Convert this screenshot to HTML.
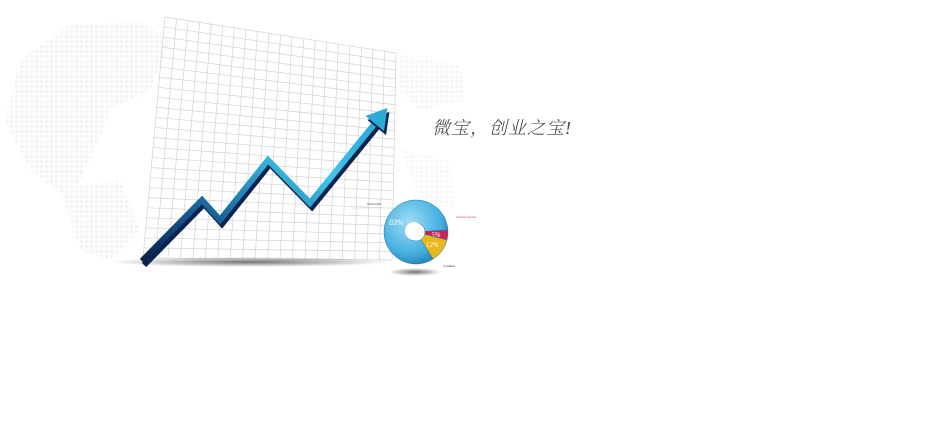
<!DOCTYPE html>
<html><head><meta charset="utf-8"><style>
html,body{margin:0;padding:0;background:#fff;width:950px;height:430px;overflow:hidden}
svg{display:block}
</style></head><body>
<svg id="chart" width="950" height="430">
<defs>
<linearGradient id="arrowG" x1="0" y1="1" x2="1" y2="0">
<stop offset="0" stop-color="#0a1f4a"/><stop offset="0.35" stop-color="#1a6aa0"/><stop offset="0.7" stop-color="#3ec6ea"/><stop offset="1" stop-color="#2aa8d8"/>
</linearGradient>
<radialGradient id="pieG" cx="0.4" cy="0.35" r="0.7">
<stop offset="0" stop-color="#9fdcf5"/><stop offset="0.7" stop-color="#45afe0"/><stop offset="1" stop-color="#1d7fb8"/>
</radialGradient>
<radialGradient id="shadowG" cx="0.5" cy="0.5" r="0.5">
<stop offset="0" stop-color="#000" stop-opacity="0.55"/><stop offset="1" stop-color="#000" stop-opacity="0"/>
</radialGradient>
<pattern id="dots" width="5" height="5" patternUnits="userSpaceOnUse"><rect width="3.5" height="3.5" fill="#e6e6e6"/></pattern>
</defs>
<g id="map" opacity="0.45">
<path d="M20 60 L70 25 L140 22 L170 40 L150 90 L110 110 L90 160 L70 200 L30 170 L5 120 Z" fill="url(#dots)"/>
<path d="M60 190 L120 180 L140 230 L110 260 L80 250 Z" fill="url(#dots)"/>
<path d="M400 55 L460 65 L465 100 L420 110 L400 90 Z" fill="url(#dots)" opacity="0.8"/>
<path d="M400 150 L450 160 L455 210 L420 200 Z" fill="url(#dots)" opacity="0.7"/>
</g>
<g id="grid"></g>
<ellipse cx="250" cy="262" rx="140" ry="5" fill="url(#shadowG)"/>
<g id="arrow"></g>
<ellipse cx="415" cy="272" rx="26" ry="4" fill="url(#shadowG)"/>
<g id="pie"></g>
<g font-family="Liberation Sans, sans-serif" font-size="3">
<text x="367" y="205" fill="#335">Total profit</text>
<line x1="352" y1="208" x2="380" y2="208" stroke="#ccc" stroke-width="0.5"/>
<text x="456" y="218" fill="#c03060">Annual Income</text>
<text x="443" y="267" fill="#333">In-station</text>
</g>
<text x="432" y="134" font-family="Liberation Serif, 'Noto Serif CJK SC', serif" font-size="18" font-style="italic" font-weight="300" fill="#444" letter-spacing="1">微宝，创业之宝!</text>
</svg>
<script>
const arrowX = [0, 1, 1.3, 2.1, 2.8, 3.9];
const arrowValues = [0, 61, 41, 101, 58, 139];
const pieLabels = ['83%', '5%', '12%'];
const pieValues = [83, 5, 12];
const NS='http://www.w3.org/2000/svg';
function mk(t,a,p){const e=document.createElementNS(NS,t);for(const k in a)e.setAttribute(k,a[k]);p.appendChild(e);return e;}
const g=document.getElementById('grid');
const TL=[165,17],TR=[396,53],BL=[143,258],BR=[392,260],C=20,R=24;
function lerp(a,b,t){return [a[0]+(b[0]-a[0])*t,a[1]+(b[1]-a[1])*t];}
for(let i=0;i<=C;i++){const a=lerp(TL,TR,i/C),b=lerp(BL,BR,i/C);const l=mk('line',{x1:a[0],y1:a[1],x2:b[0],y2:b[1],stroke:'#d2d2d2','stroke-width':0.7},g);

}
for(let j=0;j<=R;j++){const a=lerp(TL,BL,j/R),b=lerp(TR,BR,j/R);const l=mk('line',{x1:a[0],y1:a[1],x2:b[0],y2:b[1],stroke:'#d2d2d2','stroke-width':0.7},g);

}
const xS=v=>142+v*60, yS=v=>261-v*1.0;
const ar=document.getElementById('arrow');
const pts=arrowX.map((x,i)=>[xS(x),yS(arrowValues[i])]);
const d='M'+pts.map(p=>p.join(' ')).join(' L');
const sh=mk('path',{d:d,transform:'translate(2,4)',fill:'none',stroke:'#0b2350','stroke-width':6,'stroke-linejoin':'miter'},ar);


const ln=mk('path',{d:d,fill:'none',stroke:'url(#arrowG)','stroke-width':6,'stroke-linejoin':'miter'},ar);


const e=pts[pts.length-1],s=pts[pts.length-2];const ang=Math.atan2(e[1]-s[1],e[0]-s[0]);
function rot(dx,dy){return [e[0]+dx*Math.cos(ang)-dy*Math.sin(ang),e[1]+dx*Math.sin(ang)+dy*Math.cos(ang)];}
const head=[rot(18,0),rot(-2,-12),rot(-2,12)];
const hs=mk('polygon',{points:head.map(p=>(p[0]+2)+','+(p[1]+4)).join(' '),fill:'#0b2350'},ar);


const hd=mk('polygon',{points:head.map(p=>p.join(',')).join(' '),fill:'#2eaad6'},ar);


const pg=document.getElementById('pie');
const cx=416,cy=232,r=32,ri=9;
const cols=['url(#pieG)','#d0205a','#e8b81a'];
const tot=pieValues.reduce((a,b)=>a+b,0);
let a0=-Math.PI*0.02 - pieValues[0]/tot*2*Math.PI;
pieValues.forEach((v,i)=>{const a1=a0+v/tot*2*Math.PI;const big=(a1-a0)>Math.PI?1:0;
const p=[[cx+r*Math.cos(a0),cy+r*Math.sin(a0)],[cx+r*Math.cos(a1),cy+r*Math.sin(a1)],[cx+ri*Math.cos(a1),cy+ri*Math.sin(a1)],[cx+ri*Math.cos(a0),cy+ri*Math.sin(a0)]];
const sl=mk('path',{d:`M${p[0]} A${r} ${r} 0 ${big} 1 ${p[1]} L${p[2]} A${ri} ${ri} 0 ${big} 0 ${p[3]} Z`,fill:cols[i],stroke:'#1d6f9f','stroke-width':0.5},pg);


const m=(a0+a1)/2,lr=i==0?22:20;
const t=mk('text',{x:cx+lr*Math.cos(m),y:cy+lr*Math.sin(m)+3,'text-anchor':'middle','font-family':'Liberation Serif, serif','font-style':'italic','font-size':i==0?8:7,fill:'#fff'},pg);
t.textContent=pieLabels[i];


a0=a1;});
const hole=mk('circle',{cx:cx-2,cy:cy-1,r:ri,fill:'#fff'},pg);


</script>
</body></html>
